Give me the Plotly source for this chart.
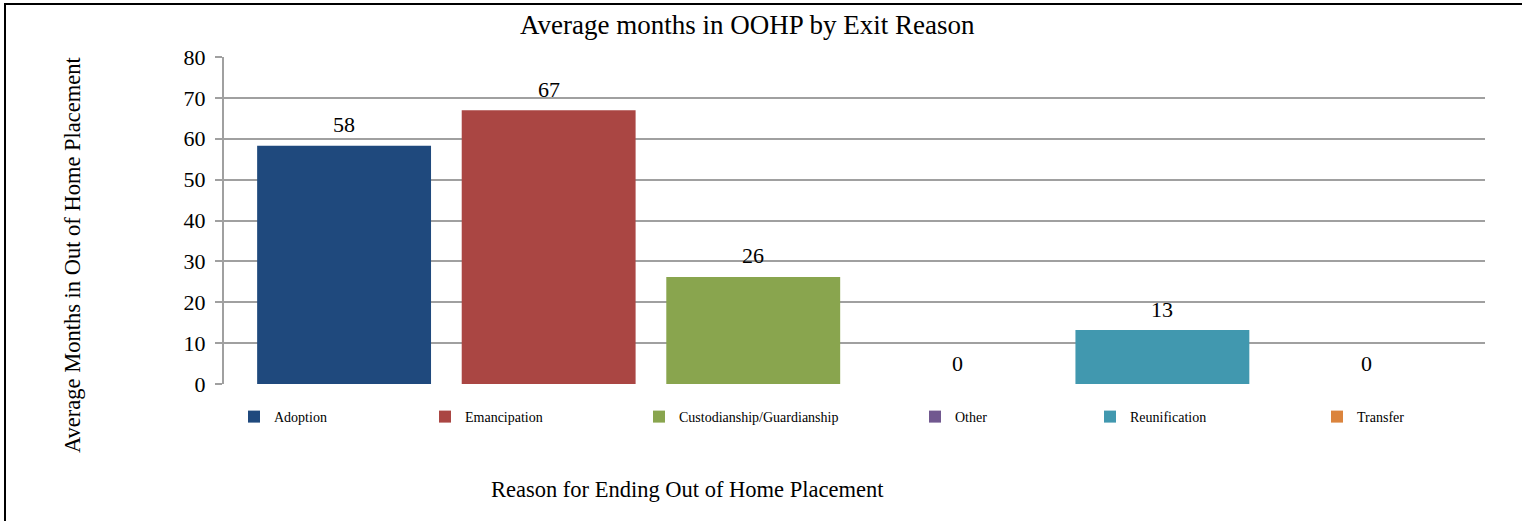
import plotly.graph_objects as go

categories = ["Adoption", "Emancipation", "Custodianship/Guardianship", "Other", "Reunification", "Transfer"]
values = [58.3, 67.0, 26.2, 0, 13.2, 0]
colors = ["#1F497D", "#AA4643", "#89A54E", "#71588F", "#4198AF", "#DB843D"]
y_ticks = [0, 10, 20, 30, 40, 50, 60, 70, 80]

title_text = "Average months in OOHP by Exit Reason"
y_title = "Average Months in Out of Home Placement"
x_title = "Reason for Ending Out of Home Placement"

FONT = "Liberation Serif, Times New Roman, serif"
W, H = 1522, 521
ML, MR, MT, MB = 224, 37, 57, 137
PW = W - ML - MR
PH = H - MT - MB

def px_x(p):
    return (p - ML) / PW

def px_y(p):
    return 1 - (p - MT) / PH

legend_left_px = [234, 425, 639, 915, 1090, 1317]

fig = go.Figure()
for i, (cat, val, col) in enumerate(zip(categories, values, colors)):
    lg = "legend" if i == 0 else f"legend{i+1}"
    fig.add_trace(go.Bar(
        x=[cat], y=[val], name=cat, marker_color=col,
        marker_line_width=0, legend=lg,
    ))

annotations = []
for cat, val in zip(categories, values):
    annotations.append(dict(
        x=cat, y=val, xref="x", yref="y", text=f"{val:.0f}", showarrow=False,
        yanchor="middle", yshift=21, font=dict(family=FONT, size=22, color="#000"),
    ))
annotations.append(dict(
    x=px_x(72), y=px_y(255), xref="paper", yref="paper", text=y_title, showarrow=False,
    textangle=-90, xanchor="center", yanchor="middle",
    font=dict(family=FONT, size=22.5, color="#000"),
))
annotations.append(dict(
    x=px_x(687), y=px_y(489), xref="paper", yref="paper", text=x_title, showarrow=False,
    xanchor="center", yanchor="middle",
    font=dict(family=FONT, size=22.5, color="#000"),
))
annotations.append(dict(
    x=px_x(747), y=px_y(25), xref="paper", yref="paper", text=title_text, showarrow=False,
    xanchor="center", yanchor="middle",
    font=dict(family=FONT, size=27, color="#000"),
))

layout = dict(
    width=W, height=H,
    margin=dict(l=ML, r=MR, t=MT, b=MB),
    paper_bgcolor="white", plot_bgcolor="white",
    barmode="overlay", bargap=0.15,
    showlegend=True,
    xaxis=dict(
        range=[-0.587, 5.577], showticklabels=False, ticks="", showgrid=False,
        showline=False, zeroline=False,
    ),
    yaxis=dict(
        range=[0, 80], tickvals=y_ticks, showgrid=True, gridcolor="#a0a0a0", gridwidth=2,
        showline=True, linecolor="#a0a0a0", linewidth=2, ticks="outside", ticklen=7,
        tickcolor="#a0a0a0", tickwidth=2, zeroline=False, ticklabelstandoff=5,
        tickfont=dict(family=FONT, size=22, color="#000"),
    ),
    annotations=annotations,
    shapes=[dict(
        type="rect", xref="paper", yref="paper",
        x0=px_x(5), x1=px_x(1600), y0=px_y(600), y1=px_y(4),
        line=dict(color="#000", width=2), fillcolor="rgba(0,0,0,0)", layer="above",
    )],
)
for i, lx in enumerate(legend_left_px):
    key = "legend" if i == 0 else f"legend{i+1}"
    layout[key] = dict(
        orientation="h", x=px_x(lx), y=px_y(417), xanchor="left", yanchor="middle",
        font=dict(family=FONT, size=14, color="#000"), bgcolor="rgba(0,0,0,0)",
        itemwidth=30,
    )

fig.update_layout(**layout)
fig.write_html(
    "out.html",
    config={"displayModeBar": False},
    post_script="document.body.style.margin='0';document.body.style.overflow='hidden';",
)
